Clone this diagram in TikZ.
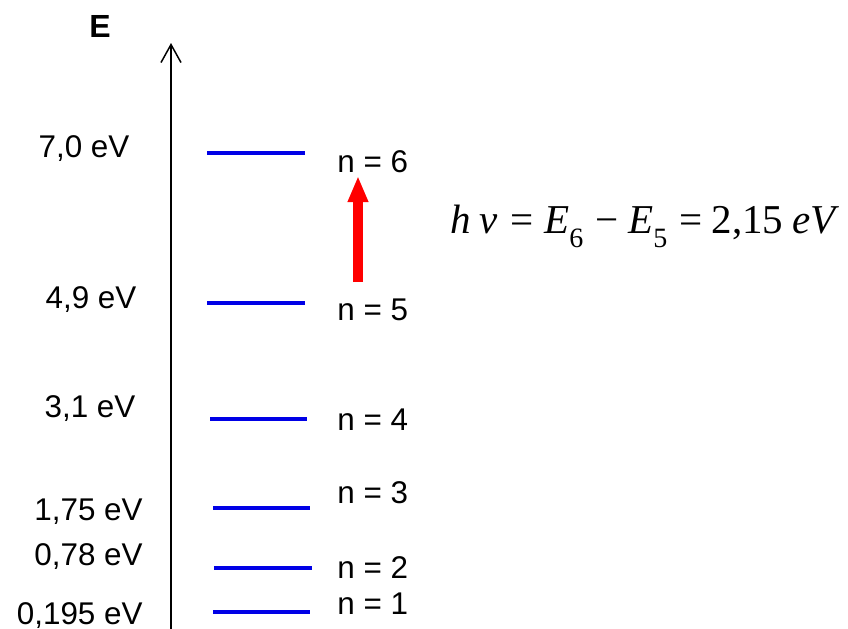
\documentclass[tikz,border=0pt]{standalone}
\usepackage{fontspec}
\setmainfont{Liberation Sans}
\newfontfamily\eqfont{Liberation Serif}
\usetikzlibrary{arrows.meta}
\definecolor{lvlblue}{RGB}{0,0,230}
\definecolor{arrred}{RGB}{255,0,0}
\tikzset{
  lbl/.style={inner sep=0pt, font=\fontsize{15.7}{18}\selectfont},
  level/.style={draw=lvlblue, line width=1.9pt},
  axis/.style={draw=black, line width=0.75pt, -{Straight Barb[length=9pt,width=10pt]}},
  photon/.style={draw=arrred, line width=5pt, -{Triangle[length=13pt,width=9.5pt]}},
}
\newcommand{\sub}[1]{\raisebox{-7pt}{\fontsize{14}{14}\selectfont #1}}
\begin{document}
\begin{tikzpicture}[x=0.5pt,y=-0.5pt]
\useasboundingbox (0,0) rectangle (848,628);
% axis
\coordinate (ax0) at (171,640);
\coordinate (ax1) at (171,43);
\draw[axis] (ax0) -- (ax1);
\node[lbl, anchor=base, font=\fontsize{16}{18}\selectfont\bfseries] (E) at (100,37) {E};
% levels
\foreach \n/\xa/\xb/\y in {6/207/305/153, 5/207/305/303, 4/210/307/419, 3/213/310/508, 2/214/312/568, 1/213/310/612}{
  \coordinate (l\n a) at (\xa,\y);
  \coordinate (l\n b) at (\xb,\y);
  \draw[level] (l\n a) -- (l\n b);
}
% energy labels
\node[lbl, anchor=base] (e6) at (84,157) {7,0 eV};
\node[lbl, anchor=base] (e5) at (91,308) {4,9 eV};
\node[lbl, anchor=base] (e4) at (90,417) {3,1 eV};
\node[lbl, anchor=base east] (e3) at (143,520) {1,75 eV};
\node[lbl, anchor=base east] (e2) at (143,565) {0,78 eV};
\node[lbl, anchor=base east] (e1) at (143,624) {0,195 eV};
% n labels
\node[lbl, anchor=base west] (n6) at (337,172) {n = 6};
\node[lbl, anchor=base west] (n5) at (337,320) {n = 5};
\node[lbl, anchor=base west] (n4) at (337,430) {n = 4};
\node[lbl, anchor=base west] (n3) at (337,503) {n = 3};
\node[lbl, anchor=base west] (n2) at (337,578) {n = 2};
\node[lbl, anchor=base west] (n1) at (337,614) {n = 1};
% photon arrow
\coordinate (p0) at (358,282);
\coordinate (p1) at (358,176);
\draw[photon] (p0) -- (p1);
% equation
\node[inner sep=0pt, anchor=base west, font=\fontsize{20.5}{24}\selectfont\eqfont] (eq) at (450,233)
  {\textit{h}\hspace{4.5pt}\textit{ν}\hspace{6pt}=\hspace{5.5pt}\textit{E}\sub{6}\hspace{6pt}−\hspace{5pt}\textit{E}\sub{5}\hspace{6pt}=\hspace{4.5pt}2,15\hspace{4.5pt}\textit{eV}};
\end{tikzpicture}
\end{document}
